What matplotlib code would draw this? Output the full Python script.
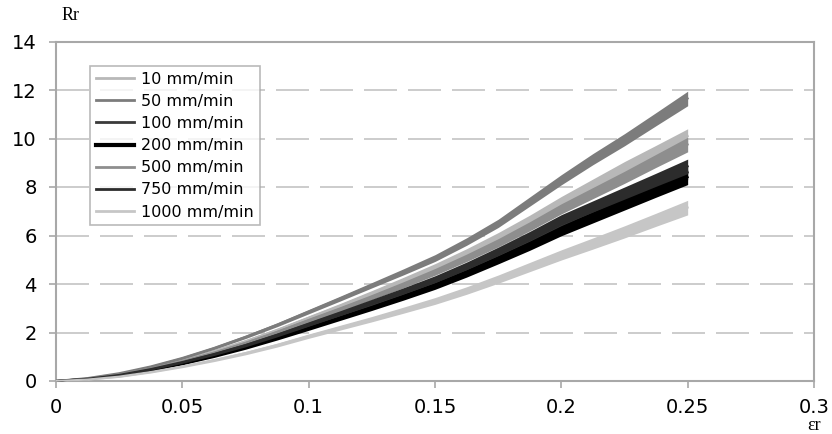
import numpy as np
import matplotlib
matplotlib.use('Agg')
import matplotlib.pyplot as plt
from matplotlib.lines import Line2D

# strain samples (εr) shared by every run
strain = [0, 0.0125, 0.025, 0.0375, 0.05, 0.0625, 0.075, 0.0875, 0.1, 0.1125,
          0.125, 0.1375, 0.15, 0.1625, 0.175, 0.1875, 0.2, 0.2125, 0.225, 0.2375, 0.25]

# mean Rr per crosshead speed
rr_10 = [0, 0.1, 0.28, 0.54, 0.86, 1.23, 1.64, 2.1, 2.6, 3.1, 3.62, 4.15, 4.7,
         5.3, 5.95, 6.65, 7.4, 8.1, 8.8, 9.45, 10.1]
rr_50 = [0, 0.12, 0.32, 0.6, 0.95, 1.36, 1.82, 2.32, 2.86, 3.4, 3.95, 4.5, 5.07,
         5.75, 6.5, 7.4, 8.3, 9.15, 9.95, 10.8, 11.65]
rr_100 = [0, 0.09, 0.24, 0.47, 0.75, 1.07, 1.42, 1.82, 2.25, 2.68, 3.12, 3.58, 4.05,
          4.58, 5.15, 5.76, 6.4, 6.95, 7.5, 8.05, 8.6]
rr_200 = [0, 0.08, 0.23, 0.45, 0.72, 1.03, 1.38, 1.77, 2.18, 2.6, 3.02, 3.46, 3.92,
          4.44, 5.0, 5.58, 6.2, 6.75, 7.3, 7.85, 8.4]
rr_500 = [0, 0.1, 0.27, 0.52, 0.82, 1.17, 1.57, 2.02, 2.5, 2.97, 3.46, 3.97, 4.5,
          5.08, 5.7, 6.38, 7.1, 7.75, 8.4, 9.08, 9.75]
rr_750 = [0, 0.09, 0.25, 0.49, 0.78, 1.11, 1.48, 1.9, 2.35, 2.8, 3.26, 3.72, 4.2,
          4.75, 5.35, 5.98, 6.65, 7.2, 7.75, 8.3, 8.85]
rr_1000 = [0, 0.06, 0.18, 0.37, 0.6, 0.86, 1.15, 1.48, 1.85, 2.2, 2.55, 2.92, 3.3,
           3.73, 4.2, 4.7, 5.2, 5.67, 6.15, 6.65, 7.15]

# half-width of the measurement scatter along the curves
spread = [0, 0.02, 0.03, 0.04, 0.05, 0.06, 0.07, 0.08, 0.09, 0.1, 0.11, 0.125,
          0.14, 0.155, 0.17, 0.19, 0.21, 0.23, 0.25, 0.27, 0.3]

labels = ['10 mm/min', '50 mm/min', '100 mm/min', '200 mm/min',
          '500 mm/min', '750 mm/min', '1000 mm/min']
series = [rr_10, rr_50, rr_100, rr_200, rr_500, rr_750, rr_1000]
colors = ['#b8b8b8', '#7c7c7c', '#3a3a3a', '#000000', '#8e8e8e', '#2c2c2c', '#c6c6c6']
widths = [2, 2, 2, 3, 2, 2, 2]

fig = plt.figure(figsize=(8.32, 4.34), dpi=100)
ax = fig.add_axes([56 / 832, 53 / 434, 758 / 832, 339.5 / 434])

x = np.array(strain)
s = np.array(spread)
handles = []
for ys, c, lw, lab in zip(series, colors, widths, labels):
    y = np.array(ys)
    ax.fill_between(x, y - s, y + s, color=c, lw=0, zorder=3)
    ax.plot(x, y, color=c, lw=1.5, zorder=3)
    handles.append(Line2D([], [], color=c, lw=lw, label=lab))

ax.set_xlim(0, 0.3)
ax.set_ylim(0, 14)
ax.set_xticks([0, 0.05, 0.1, 0.15, 0.2, 0.25, 0.3])
ax.set_xticklabels(['0', '0.05', '0.1', '0.15', '0.2', '0.25', '0.3'])
ax.set_yticks(range(0, 15, 2))

for y in range(2, 14, 2):
    ax.axhline(y, color='#c4c4c4', lw=1.2, ls=(0, (19.8, 6.6)), zorder=1)

for sp in ax.spines.values():
    sp.set_color('#a8a8a8')
    sp.set_linewidth(1.5)

ax.tick_params(axis='both', direction='out', length=5, width=1.2,
               color='#a8a8a8', labelsize=14)
ax.tick_params(axis='y', pad=9)
ax.tick_params(axis='x', pad=7)
ax.tick_params(right=False, top=False)

leg = ax.legend(handles=handles, loc='upper left', bbox_to_anchor=(0.045, 0.928),
                fontsize=11.5, frameon=True, fancybox=False, edgecolor='#a8a8a8',
                handlelength=2.4, handletextpad=0.45, labelspacing=0.45,
                borderpad=0.35, borderaxespad=0)
leg.get_frame().set_linewidth(1.2)

fig.text(62 / 832, 1 - 16 / 434, 'Rr', family='Liberation Serif', fontsize=13,
         ha='left', va='center')
fig.text(814 / 832, 1 - 425 / 434, 'εr', family='Liberation Serif', fontsize=13,
         ha='center', va='center')

fig.savefig('out.png', dpi=100)
